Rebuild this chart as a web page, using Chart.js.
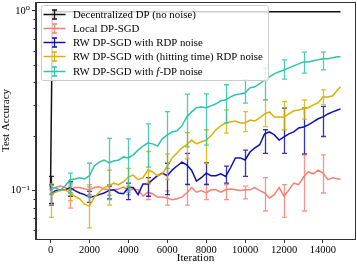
<!DOCTYPE html>
<html>
<head>
<meta charset="utf-8">
<script src="https://cdn.jsdelivr.net/npm/chart.js@4.4.0/dist/chart.umd.min.js"></script>
<style>
  html, body { margin: 0; padding: 0; background: #fff; }
  #wrap { width: 357px; height: 265px; }
</style>
</head>
<body>
<div id="wrap"><canvas id="chart"></canvas></div>
<script>
// iterations at which the curves were read
const iters = [0, 250, 500, 750, 1000, 1250, 1500, 1750, 2000, 2250,
  2500, 2750, 3000, 3250, 3500, 3750, 4000, 4250, 4500, 4750,
  5000, 5250, 5500, 5750, 6000, 6250, 6500, 6750, 7000, 7250,
  7500, 7750, 8000, 8250, 8500, 8750, 9000, 9250, 9500, 9750,
  10000, 10250, 10500, 10750, 11000, 11250, 11500, 11750, 12000, 12250,
  12500, 12750, 13000, 13250, 13500, 13750, 14000, 14250, 14500, 14750,
  14900];

// error bars every 1000 iterations
const errIters = [0, 1000, 2000, 3000, 4000, 5000, 6000, 7000, 8000, 9000, 10000, 11000, 12000, 13000, 14000];

const xTicks = [0, 2000, 4000, 6000, 8000, 10000, 12000, 14000];
const yMajor = [0.1, 1];
const yMinor = [0.06, 0.07, 0.08, 0.09, 0.2, 0.3, 0.4, 0.5, 0.6, 0.7, 0.8, 0.9];

// Decentralized DP (no noise)
const dpIters = [0, 100, 14900];
const dpAcc = [0.1, 0.99, 0.99];
const dpErrIters = [0];
const dpLo = [0.085];
const dpHi = [0.12];

// Local DP-SGD
const localAcc = [0.101, 0.104, 0.106, 0.104, 0.100, 0.104, 0.104, 0.102, 0.101, 0.104,
  0.105, 0.102, 0.101, 0.101, 0.102, 0.105, 0.100, 0.102, 0.101, 0.093,
  0.098, 0.096, 0.092, 0.092, 0.091, 0.089, 0.090, 0.092, 0.097, 0.104,
  0.098, 0.100, 0.097, 0.101, 0.101, 0.098, 0.101, 0.102, 0.101, 0.100,
  0.101, 0.101, 0.104, 0.100, 0.097, 0.091, 0.095, 0.104, 0.093, 0.101,
  0.110, 0.108, 0.119, 0.127, 0.124, 0.130, 0.125, 0.115, 0.118, 0.116,
  0.116];
const localLo = [0.095, 0.080, 0.095, 0.094, 0.095, 0.089, 0.083, 0.083, 0.089, 0.089, 0.090, 0.077, 0.071, 0.077, 0.097];
const localHi = [0.108, 0.109, 0.105, 0.108, 0.106, 0.109, 0.0996, 0.109, 0.109, 0.108, 0.106, 0.118, 0.108, 0.158, 0.158];

// RW DP-SGD with RDP noise
const rdpAcc = [0.095, 0.100, 0.101, 0.101, 0.104, 0.100, 0.097, 0.095, 0.092, 0.093,
  0.095, 0.097, 0.100, 0.101, 0.097, 0.096, 0.104, 0.104, 0.095, 0.109,
  0.109, 0.115, 0.121, 0.125, 0.121, 0.130, 0.137, 0.144, 0.139, 0.130,
  0.113, 0.118, 0.125, 0.121, 0.121, 0.124, 0.120, 0.134, 0.152, 0.152,
  0.148, 0.164, 0.173, 0.180, 0.207, 0.212, 0.204, 0.191, 0.199, 0.207,
  0.212, 0.223, 0.226, 0.232, 0.241, 0.251, 0.257, 0.267, 0.274, 0.281,
  0.285];
const rdpLo = [0.083, 0.093, 0.086, 0.090, 0.089, 0.093, 0.095, 0.108, 0.108, 0.110, 0.120, 0.161, 0.161, 0.160, 0.200];
const rdpHi = [0.108, 0.112, 0.099, 0.106, 0.110, 0.118, 0.142, 0.161, 0.143, 0.137, 0.168, 0.218, 0.288, 0.288, 0.294];

// RW DP-SGD with (hitting time) RDP noise
const hitAcc = [0.095, 0.098, 0.100, 0.101, 0.097, 0.093, 0.090, 0.084, 0.082, 0.092,
  0.098, 0.104, 0.106, 0.110, 0.108, 0.112, 0.119, 0.122, 0.115, 0.118,
  0.130, 0.127, 0.121, 0.124, 0.137, 0.152, 0.162, 0.173, 0.180, 0.191,
  0.182, 0.187, 0.191, 0.202, 0.218, 0.229, 0.238, 0.241, 0.244, 0.238,
  0.238, 0.247, 0.244, 0.254, 0.267, 0.274, 0.257, 0.257, 0.257, 0.267,
  0.278, 0.281, 0.285, 0.289, 0.300, 0.308, 0.332, 0.332, 0.337, 0.363,
  0.378];
const hitLo = [0.071, 0.088, 0.062, 0.083, 0.105, 0.110, 0.115, 0.150, 0.142, 0.209, 0.213, 0.227, 0.218, 0.250, 0.300];
const hitHi = [0.109, 0.106, 0.108, 0.130, 0.133, 0.165, 0.160, 0.210, 0.218, 0.281, 0.275, 0.320, 0.313, 0.320, 0.363];

// RW DP-SGD with f-DP noise
const fdpAcc = [0.102, 0.104, 0.100, 0.106, 0.115, 0.116, 0.118, 0.116, 0.121, 0.137,
  0.144, 0.148, 0.143, 0.146, 0.148, 0.154, 0.152, 0.158, 0.168, 0.177,
  0.184, 0.182, 0.177, 0.194, 0.204, 0.212, 0.215, 0.229, 0.257, 0.274,
  0.289, 0.292, 0.289, 0.296, 0.304, 0.316, 0.320, 0.332, 0.341, 0.345,
  0.350, 0.373, 0.378, 0.393, 0.413, 0.429, 0.446, 0.458, 0.469, 0.482,
  0.494, 0.507, 0.520, 0.520, 0.527, 0.534, 0.541, 0.541, 0.548, 0.555,
  0.555];
const fdpLo = [0.096, 0.097, 0.093, 0.089, 0.098, 0.135, 0.133, 0.175, 0.179, 0.238, 0.307, 0.320, 0.417, 0.450, 0.469];
const fdpHi = [0.107, 0.125, 0.142, 0.195, 0.194, 0.235, 0.275, 0.344, 0.345, 0.388, 0.413, 0.480, 0.534, 0.589, 0.589];

const FONT = '"Liberation Serif", "DejaVu Serif", serif';

const series = [
  { label: "Decentralized DP (no noise)", color: "#111111", xs: dpIters, ys: dpAcc, ex: dpErrIters, lo: dpLo, hi: dpHi },
  { label: "Local DP-SGD", color: "#fa7f72", xs: iters, ys: localAcc, ex: errIters, lo: localLo, hi: localHi },
  { label: "RW DP-SGD with RDP noise", color: "#1010b0", xs: iters, ys: rdpAcc, ex: errIters, lo: rdpLo, hi: rdpHi },
  { label: "RW DP-SGD with (hitting time) RDP noise", color: "#e0b000", xs: iters, ys: hitAcc, ex: errIters, lo: hitLo, hi: hitHi },
  { label: "RW DP-SGD with f-DP noise", color: "#2ec4a6", xs: iters, ys: fdpAcc, ex: errIters, lo: fdpLo, hi: fdpHi, italicF: true },
];

function withAlpha(hex, a) {
  const n = parseInt(hex.slice(1), 16);
  return "rgba(" + (n >> 16) + "," + ((n >> 8) & 255) + "," + (n & 255) + "," + a + ")";
}

// draw the vertical error bars right after each dataset's line
const errorBars = {
  id: "errorBars",
  afterDatasetDraw(chart, args) {
    const ds = chart.data.datasets[args.index];
    const s = series[ds.seriesIndex];
    const xs = chart.scales.x, ys = chart.scales.y;
    const ctx = chart.ctx;
    const area = chart.chartArea;
    ctx.save();
    ctx.beginPath();
    ctx.rect(area.left, area.top, area.right - area.left, area.bottom - area.top);
    ctx.clip();
    ctx.strokeStyle = withAlpha(s.color, 0.85);
    ctx.lineWidth = 1.3;
    s.ex.forEach((it, i) => {
      const px = Math.round(xs.getPixelForValue(it)) + 0.5;
      const y1 = ys.getPixelForValue(s.lo[i]);
      const y2 = ys.getPixelForValue(s.hi[i]);
      ctx.beginPath();
      ctx.moveTo(px, y1); ctx.lineTo(px, y2);
      ctx.moveTo(px - 2.5, y1); ctx.lineTo(px + 2.5, y1);
      ctx.moveTo(px - 2.5, y2); ctx.lineTo(px + 2.5, y2);
      ctx.stroke();
    });
    ctx.restore();
  },
};

// frame, minor ticks and the legend box
const decorations = {
  id: "decorations",
  afterDraw(chart) {
    const ctx = chart.ctx;
    const a = chart.chartArea;
    const ys = chart.scales.y;
    ctx.save();
    ctx.strokeStyle = "#333";
    ctx.lineWidth = 1;
    ctx.strokeRect(Math.round(a.left) - 0.5, Math.round(a.top) + 0.5, Math.round(a.right - a.left) + 1, Math.round(a.bottom - a.top));
    ctx.beginPath();
    yMinor.forEach((v) => {
      const py = Math.round(ys.getPixelForValue(v)) + 0.5;
      ctx.moveTo(a.left - 2.5, py); ctx.lineTo(a.left, py);
    });
    ctx.stroke();

    // legend: font size fitted so the longest label spans the same width as the reference
    ctx.font = "10px " + FONT;
    const fs = Math.min(13, 10 * 190 / ctx.measureText(series[3].label).width);
    const bx = 41, by = 5, bw = 227, bh = 75;
    ctx.fillStyle = "rgba(255,255,255,0.8)";
    ctx.strokeStyle = "#cccccc";
    ctx.beginPath();
    ctx.roundRect(bx + 0.5, by + 0.5, bw, bh, 2);
    ctx.fill();
    ctx.stroke();
    ctx.textBaseline = "middle";
    series.forEach((s, i) => {
      const ry = Math.round(13.5 + i * 14.3) + 0.5;
      ctx.strokeStyle = s.color;
      ctx.lineWidth = 1.5;
      ctx.beginPath();
      ctx.moveTo(43.5, ry); ctx.lineTo(65.5, ry);
      ctx.stroke();
      ctx.lineWidth = 1.3;
      ctx.beginPath();
      ctx.moveTo(54.5, ry - 4.5); ctx.lineTo(54.5, ry + 4.5);
      ctx.moveTo(52, ry - 4.5); ctx.lineTo(57, ry - 4.5);
      ctx.moveTo(52, ry + 4.5); ctx.lineTo(57, ry + 4.5);
      ctx.stroke();
      ctx.fillStyle = "#000";
      ctx.font = fs + "px " + FONT;
      if (s.italicF) {
        let tx = 73;
        const p1 = "RW DP-SGD with ";
        ctx.fillText(p1, tx, ry + 0.5);
        tx += ctx.measureText(p1).width;
        ctx.font = "italic " + fs + "px " + FONT;
        ctx.fillText("f", tx, ry + 0.5);
        tx += ctx.measureText("f").width + 0.5;
        ctx.font = fs + "px " + FONT;
        ctx.fillText("-DP noise", tx, ry + 0.5);
      } else {
        ctx.fillText(s.label, 73, ry + 0.5);
      }
    });
    ctx.restore();
  },
};

const datasets = series.map((s, k) => ({
  label: s.label,
  seriesIndex: k,
  data: s.xs.map((x, i) => ({ x: x, y: s.ys[i] })),
  borderColor: s.color,
  backgroundColor: s.color,
  borderWidth: 1.5,
  pointRadius: 0,
  tension: 0,
  order: series.length - k,
}));

new Chart(document.getElementById("chart"), {
  type: "line",
  data: { datasets: datasets },
  options: {
    responsive: true,
    maintainAspectRatio: false,
    animation: false,
    devicePixelRatio: 1,
    layout: { padding: { top: 2, right: 2, left: 0, bottom: 0 } },
    plugins: { legend: { display: false }, tooltip: { enabled: false } },
    scales: {
      x: {
        type: "linear",
        min: -745,
        max: 15645,
        afterBuildTicks: (axis) => { axis.ticks = xTicks.map((v) => ({ value: v })); },
        afterFit: (axis) => { axis.height = 26; axis.paddingLeft = 0; axis.paddingRight = 0; },
        ticks: { autoSkip: false, maxRotation: 0, padding: 1, color: "#000", font: { family: FONT, size: 10.5 }, callback: (v) => String(v) },
        grid: { drawOnChartArea: false, tickLength: 4, tickColor: "#333" },
        border: { color: "#333" },
        title: { display: true, text: "Iteration", color: "#000", font: { family: FONT, size: 11 }, padding: { top: 0, bottom: 0 } },
      },
      y: {
        type: "logarithmic",
        min: 0.0538,
        max: 1.12,
        afterBuildTicks: (axis) => {
          axis.ticks = yMinor.concat(yMajor).sort((p, q) => p - q).map((v) => ({ value: v }));
        },
        afterFit: (axis) => { axis.width = 36; axis.paddingTop = 0; axis.paddingBottom = 0; },
        ticks: {
          autoSkip: false,
          padding: 2,
          color: "#000",
          font: { family: FONT, size: 10.5 },
          callback: (v) => (v === 1 ? "10\u2070" : v === 0.1 ? "10\u207B\u00B9" : ""),
        },
        grid: {
          drawOnChartArea: false,
          tickLength: 4,
          tickColor: (c) => (c.tick && (c.tick.value === 1 || c.tick.value === 0.1) ? "#333" : "rgba(0,0,0,0)"),
        },
        border: { color: "#333" },
        title: { display: true, text: "Test Accuracy", color: "#000", font: { family: FONT, size: 11 }, padding: { top: 0, bottom: 2 } },
      },
    },
  },
  plugins: [errorBars, decorations],
});
</script>
</body>
</html>
